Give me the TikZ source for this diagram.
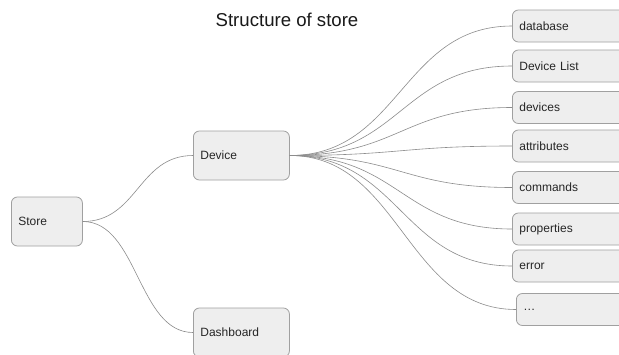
\documentclass[tikz,border=0pt]{standalone}
\usepackage{fontspec}
\setmainfont{Liberation Sans}
\definecolor{boxfill}{HTML}{EEEEEE}
\definecolor{boxline}{HTML}{A0A0A0}
\definecolor{wire}{HTML}{8C8C8C}
\begin{document}
\begin{tikzpicture}[x=1pt,y=-1pt,
  box/.style={draw=boxline,fill=boxfill,line width=0.8pt,rounded corners=6pt,anchor=west,
    inner xsep=7pt,inner ysep=0pt,align=left,font=\fontsize{12}{14}\selectfont,text=black!85},
  bigbox/.style={box,minimum height=49pt,text width=#1},
  leaf/.style={box,minimum height=32pt,text width=110pt},
  wire/.style={draw=wire,line width=0.6pt}]
\clip (0,0) rectangle (619,354);
\fill[white] (0,0) rectangle (619,354);
\node[font=\fontsize{18.6}{22}\selectfont,text=black!90] (title) at (287,20) {Structure of store};
\node[bigbox=57pt] (store) at (11,221.5) {Store};
\node[bigbox=82pt] (device) at (193,155.5) {Device};
\node[bigbox=82pt] (dash) at (193,332.5) {Dashboard};
\node[leaf] (l1) at (512,26) {database};
\node[leaf] (l2) at (512,66) {Device List};
\node[leaf] (l3) at (512,107.5) {devices};
\node[leaf] (l4) at (512,146) {attributes};
\node[leaf] (l5) at (512,187.5) {commands};
\node[leaf] (l6) at (512,229) {properties};
\node[leaf] (l7) at (512,266) {error};
\node[leaf] (l8) at (516,309.5) {\dots};
\draw[wire] (store.east) .. controls +(55,0) and +(-55,0) .. (device.west);
\draw[wire] (store.east) .. controls +(55,0) and +(-55,0) .. (dash.west);
\foreach \n in {l1,l2,l3,l4,l5,l6,l7,l8}{
  \draw[wire] (device.east) .. controls +(110,0) and +(-110,0) .. (\n.west);
}
\end{tikzpicture}
\end{document}
